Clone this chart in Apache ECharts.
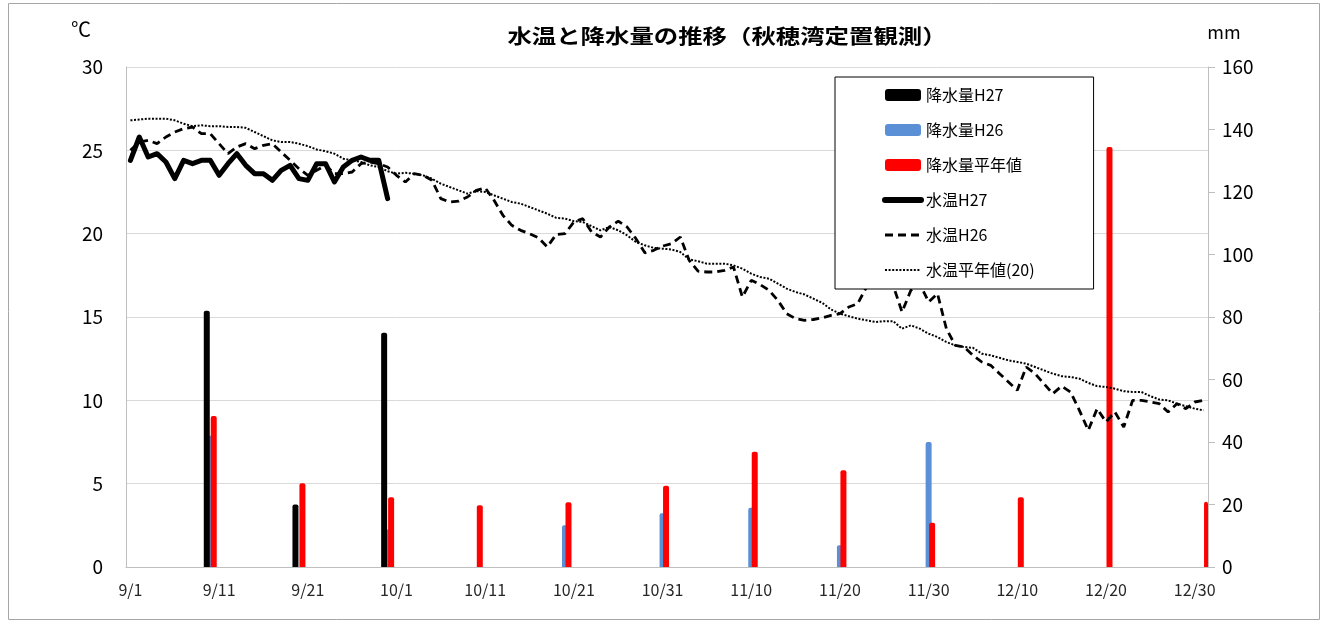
<!DOCTYPE html>
<html>
<head>
<meta charset="utf-8">
<title>水温と降水量の推移</title>
<script src="https://cdn.jsdelivr.net/npm/echarts@6/dist/echarts.min.js"></script>
<style>
  html, body { margin: 0; padding: 0; background: #fff; }
  #main { width: 1329px; height: 625px; }
</style>
</head>
<body>
<div id="main"></div>
<script>
// 日付 9/1〜12/31
const months = [[9, 30], [10, 31], [11, 30], [12, 31]];
const dates = [];
months.forEach(([m, n]) => { for (let d = 1; d <= n; d++) dates.push(m + '/' + d); });

// 水温 (℃)
const tempH27 = [24.4, 25.8, 24.6, 24.8, 24.3, 23.3, 24.4, 24.2, 24.4, 24.4,
  23.5, 24.2, 24.8, 24.1, 23.6, 23.6, 23.2, 23.8, 24.1, 23.3,
  23.2, 24.2, 24.2, 23.1, 24.0, 24.4, 24.6, 24.4, 24.4, 22.1];

const tempH26 = [25.0, 25.5, 25.6, 25.4, 25.8, 26.1, 26.3, 26.4, 26.0, 26.0,
  25.4, 24.8, 25.2, 25.4, 25.1, 25.3, 25.4, 24.9, 24.4, 23.9,
  23.5, 23.8, 24.1, 23.6, 23.6, 23.7, 24.2, 24.3, 24.2, 24.0,
  23.5, 23.1, 23.6, 23.5, 23.2, 22.1, 21.9, 21.95, 22.2, 22.6,
  22.75, 22.0, 21.1, 20.5, 20.2, 20.0, 19.75, 19.2, 19.95, 20.0,
  20.7, 20.9, 20.1, 19.8, 20.4, 20.75, 20.4, 19.7, 18.85, 19.0,
  19.25, 19.4, 19.8, 18.4, 17.75, 17.7, 17.7, 17.8, 18.0, 16.2,
  17.2, 16.95, 16.6, 16.0, 15.2, 14.9, 14.8, 14.85, 14.95, 15.1,
  15.2, 15.6, 15.8, 16.8, 17.0, 17.2, 16.9, 15.3, 16.6, 17.0,
  15.9, 16.4, 14.3, 13.3, 13.2, 12.7, 12.3, 12.1, 11.6, 11.1,
  10.6, 12.0, 11.6, 11.0, 10.4, 10.85, 10.5, 9.4, 8.2, 9.5,
  8.7, 9.3, 8.4, 10.0, 10.0, 9.9, 9.8, 9.3, 9.8, 9.5,
  9.9, 10.0];

const tempAvg = [26.8, 26.85, 26.9, 26.9, 26.9, 26.8, 26.6, 26.45, 26.5, 26.45,
  26.45, 26.4, 26.4, 26.35, 26.1, 25.85, 25.6, 25.5, 25.5, 25.4,
  25.25, 25.05, 24.95, 24.8, 24.5, 24.4, 24.3, 24.1, 24.0, 23.75,
  23.6, 23.65, 23.6, 23.5, 23.3, 23.0, 22.8, 22.6, 22.4, 22.55,
  22.5, 22.3, 22.1, 21.9, 21.8, 21.6, 21.4, 21.2, 20.95, 20.9,
  20.75, 20.7, 20.45, 20.2, 20.4, 20.2, 19.9, 19.5, 19.3, 19.15,
  19.1, 19.05, 18.9, 18.45, 18.35, 18.2, 18.2, 18.2, 18.1, 17.9,
  17.6, 17.4, 17.3, 17.0, 16.7, 16.5, 16.35, 16.1, 15.85, 15.45,
  15.2, 15.05, 14.9, 14.8, 14.7, 14.75, 14.75, 14.3, 14.5, 14.3,
  14.0, 13.8, 13.5, 13.3, 13.2, 13.15, 12.8, 12.7, 12.55, 12.4,
  12.3, 12.2, 12.0, 11.8, 11.6, 11.45, 11.4, 11.3, 11.05, 10.85,
  10.8, 10.7, 10.55, 10.5, 10.5, 10.25, 10.05, 10.0, 9.8, 9.65,
  9.5, 9.4];

// 降水量 (mm) 旬ごと
const rainDates = ['9/10', '9/20', '9/30', '10/10', '10/20', '10/31', '11/10', '11/20', '11/30', '12/10', '12/20', '12/31'];
const rainH27 = [82, 20, 75, null, null, null, null, null, null, null, null, null];
const rainH26 = [42, null, 12, null, 13.4, 17.2, 19, 7, 40, null, null, null];
const rainAvg = [48.3, 26.8, 22.3, 19.8, 20.7, 26, 36.9, 31, 14.2, 22.3, 134.4, 20.9];

const FONT = "'Noto Sans CJK JP', 'Noto Sans', sans-serif";

function toDaily(vals) {
  const arr = dates.map(() => null);
  rainDates.forEach((d, i) => { arr[dates.indexOf(d)] = vals[i]; });
  return arr;
}

const chart = echarts.init(document.getElementById('main'));

const barCommon = {
  type: 'bar',
  yAxisIndex: 1,
  barWidth: 6,
  barGap: '-42%',
  barCategoryGap: '0%'
};

const option = {
  animation: false,
  textStyle: { fontFamily: FONT },
  grid: { left: 126, right: 121, top: 67, bottom: 58 },
  graphic: [
    {
      type: 'rect', silent: true, z: -10,
      shape: { x: 8.5, y: 3.5, width: 1311, height: 616 },
      style: { fill: 'none', stroke: '#a6a6a6', lineWidth: 1 }
    },
    {
      type: 'text', x: 727, y: 36, scaleX: 1.22,
      style: {
        text: '水温と降水量の推移（秋穂湾定置観測）',
        fontSize: 20, fontWeight: 'bold', fontFamily: FONT, fill: '#000',
        textAlign: 'center', textVerticalAlign: 'middle',
        align: 'center', verticalAlign: 'middle'
      }
    },
    {
      type: 'text', x: 81, y: 29,
      style: {
        text: '℃', fontSize: 20, fontFamily: FONT, fill: '#000',
        textAlign: 'center', textVerticalAlign: 'middle', align: 'center', verticalAlign: 'middle'
      }
    },
    {
      type: 'text', x: 1224, y: 32,
      style: {
        text: 'mm', fontSize: 18, fontFamily: FONT, fill: '#000',
        textAlign: 'center', textVerticalAlign: 'middle', align: 'center', verticalAlign: 'middle'
      }
    }
  ],
  legend: {
    orient: 'vertical',
    left: 835,
    top: 77,
    itemWidth: 36,
    itemHeight: 12,
    itemGap: 19,
    padding: [10, 59, 11, 47],
    backgroundColor: '#fff',
    borderColor: '#000',
    borderWidth: 1,
    z: 10,
    textStyle: { fontSize: 16, color: '#000', fontFamily: FONT },
    data: [
      { name: '降水量H27' },
      { name: '降水量H26' },
      { name: '降水量平年値' },
      { name: '水温H27', itemStyle: { opacity: 0 }, lineStyle: { width: 6 } },
      { name: '水温H26', itemStyle: { opacity: 0 }, lineStyle: { width: 3 } },
      { name: '水温平年値(20)', itemStyle: { opacity: 0 }, lineStyle: { width: 2 } }
    ]
  },
  xAxis: {
    type: 'category',
    data: dates,
    boundaryGap: true,
    axisLine: { lineStyle: { color: '#bfbfbf', width: 1 } },
    axisTick: { show: false },
    axisLabel: { interval: 9, fontSize: 16, color: '#262626', margin: 15 },
    splitLine: { show: false }
  },
  yAxis: [
    {
      type: 'value', min: 0, max: 30, interval: 5,
      axisLine: { show: true, lineStyle: { color: '#bfbfbf' } },
      axisTick: { show: false },
      axisLabel: { fontSize: 19, color: '#000', margin: 23 },
      splitLine: { lineStyle: { color: '#d9d9d9', width: 1 } }
    },
    {
      type: 'value', min: 0, max: 160, interval: 20, position: 'right',
      axisLine: { show: true, lineStyle: { color: '#bfbfbf' } },
      axisTick: { show: true, length: 7, lineStyle: { color: '#bfbfbf' } },
      axisLabel: { fontSize: 19, color: '#000', margin: 14 },
      splitLine: { show: false }
    }
  ],
  series: [
    Object.assign({}, barCommon, {
      name: '降水量H27', z: 3, data: toDaily(rainH27),
      itemStyle: { color: '#000000', borderRadius: [2, 2, 0, 0] }
    }),
    Object.assign({}, barCommon, {
      name: '降水量H26', z: 2, data: toDaily(rainH26),
      itemStyle: { color: '#5B8FD6', borderRadius: [2, 2, 0, 0] }
    }),
    Object.assign({}, barCommon, {
      name: '降水量平年値', z: 3, data: toDaily(rainAvg),
      itemStyle: { color: '#FF0000', borderRadius: [2, 2, 0, 0] }
    }),
    {
      name: '水温H27', type: 'line', yAxisIndex: 0, z: 6, symbol: 'none',
      data: tempH27,
      itemStyle: { color: '#000' },
      lineStyle: { color: '#000', width: 5, cap: 'round', join: 'round' }
    },
    {
      name: '水温H26', type: 'line', yAxisIndex: 0, z: 5, symbol: 'none',
      data: tempH26,
      itemStyle: { color: '#000' },
      lineStyle: { color: '#000', width: 2.8, type: [8, 5], cap: 'butt' }
    },
    {
      name: '水温平年値(20)', type: 'line', yAxisIndex: 0, z: 4, symbol: 'none',
      data: tempAvg,
      itemStyle: { color: '#000' },
      lineStyle: { color: '#000', width: 2, type: [2, 1.6] }
    }
  ]
};

chart.setOption(option);
</script>
</body>
</html>
